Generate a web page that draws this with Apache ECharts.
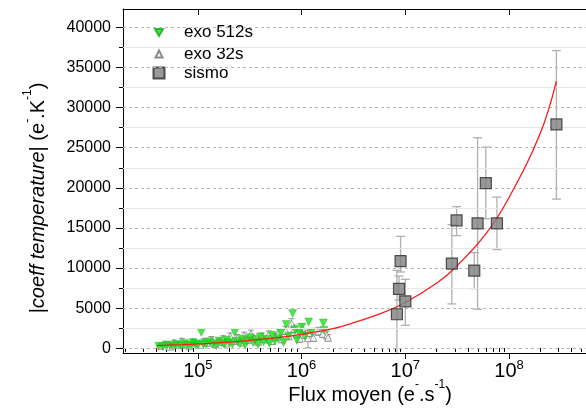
<!DOCTYPE html>
<html><head><meta charset="utf-8">
<script src="https://cdn.jsdelivr.net/npm/echarts@6/dist/echarts.min.js"></script>
<style>html,body{margin:0;padding:0;background:#fff}#c{width:586px;height:408px}</style>
</head><body><div id="c"></div>
<script>
// ---- data ----
const exo512Flux = [4.2e4,4.6e4,5.0e4,5.4e4,5.8e4,6.2e4,6.6e4,7.0e4,7.5e4,8.0e4,8.5e4,9.0e4,9.5e4,1.0e5,1.08e5,1.12e5,1.2e5,1.3e5,1.4e5,1.5e5,1.6e5,1.7e5,1.8e5,1.9e5,2.0e5,2.15e5,2.27e5,2.4e5,2.55e5,2.7e5,2.85e5,3.0e5,3.2e5,3.4e5,3.6e5,3.8e5,4.0e5,4.3e5,4.6e5,4.9e5,5.2e5,5.5e5,5.9e5,6.3e5,6.7e5,7.1e5,7.5e5,8.2e5,8.6e5,9.0e5,9.5e5,1.0e6,1.08e6,1.17e6,1.25e6,1.62e6,1.65e6];
const exo512Val  = [250,150,400,300,200,450,350,250,600,400,300,700,500,350,1950,600,450,800,550,300,900,650,450,1000,700,500,1950,850,600,1100,400,900,1300,700,1000,500,1400,800,1100,600,1600,900,1200,1900,700,2950,1500,4320,2300,1000,1800,2600,1500,3280,2000,3150,2240];
const exo32Flux = [4.3e4,4.8e4,5.3e4,5.9e4,6.4e4,7.0e4,7.6e4,8.3e4,9.0e4,9.8e4,1.06e5,1.15e5,1.25e5,1.35e5,1.47e5,1.6e5,1.75e5,1.9e5,2.05e5,2.2e5,2.4e5,2.6e5,2.8e5,3.0e5,3.25e5,3.5e5,3.8e5,4.1e5,4.4e5,4.8e5,5.2e5,5.6e5,6.0e5,6.5e5,7.0e5,7.5e5,8.0e5,8.5e5,9.0e5,9.6e5,1.02e6,1.08e6,1.15e6,1.2e6,1.3e6,1.45e6,1.6e6,1.76e6,1.8e6];
const exo32Val  = [300,500,200,700,400,900,500,300,800,600,400,900,650,1100,500,800,1200,600,1500,900,1300,700,1600,1000,1800,1200,800,1500,1100,1700,900,1400,1900,1100,2200,1500,3080,2400,1800,1200,2500,1700,1250,1900,1300,2100,1800,1620,1300];
const exo32Err  = [200,250,200,300,250,300,250,200,300,250,250,300,300,350,300,300,350,300,400,350,400,300,400,350,450,400,350,400,400,450,400,450,500,400,500,450,600,500,500,450,550,500,1200,500,450,500,500,500,400];
const sismoFlux = [8.3e6,8.7e6,9.0e6,1.0e7,2.81e7,3.12e7,4.62e7,4.97e7,5.97e7,7.64e7,2.86e8];
const sismoVal  = [4230,7385,10870,5850,10550,15940,9680,15570,20590,15570,27900];
const sismoLow  = [-1500,6000,9500,2860,5520,14030,7430,4860,16150,12290,18590];
const sismoHigh = [9700,9000,13950,8590,15400,17650,11920,26240,25070,18840,37110];
const fitFlux = [4e4,7e4,1e5,2e5,3e5,6e5,1e6,2e6,3e6,6e6,1e7,2e7,3e7,6e7,1e8,2e8,2.86e8];
const fitVal  = [330,440,530,750,950,1320,1730,2440,3070,4400,5700,8100,10000,14300,18800,26800,33300];
const xMajorTicks = [1e5,1e6,1e7,1e8];
const xMinorTicks = [2e4,3e4,4e4,5e4,6e4,7e4,8e4,9e4,2e5,3e5,4e5,5e5,6e5,7e5,8e5,9e5,2e6,3e6,4e6,5e6,6e6,7e6,8e6,9e6,2e7,3e7,4e7,5e7,6e7,7e7,8e7,9e7,2e8,3e8,4e8,5e8];
const yMajorTicks = [0,5000,10000,15000,20000,25000,30000,35000,40000];
const yMinorTicks = [2500,7500,12500,17500,22500,27500,32500,37500];
const seriesNames = ['exo 512s','exo 32s','sismo'];

// ---- build ----
const L = Math.log10;
const X_MIN = 4.2783, X_MAX = 8.7417, Y_MIN = -600, Y_MAX = 42300;
const FONT = 'Liberation Sans, Arial, sans-serif';

const exo512Data = exo512Flux.map((f,i)=>[L(f), exo512Val[i]]);
const exo32Data = exo32Flux.map((f,i)=>[L(f), exo32Val[i]]);
const exo32ErrData = exo32Flux.map((f,i)=>[L(f), exo32Val[i], exo32Val[i]-exo32Err[i], exo32Val[i]+exo32Err[i]]);
const sismoData = sismoFlux.map((f,i)=>[L(f), sismoVal[i]]);
const sismoErrData = sismoFlux.map((f,i)=>[L(f), sismoVal[i], sismoLow[i], sismoHigh[i]]);
const fitData = fitFlux.map((f,i)=>[L(f), fitVal[i]]);

function errRender(capHalf, color, lw) {
  return function (params, api) {
    const x = api.value(0), lo = api.value(2), hi = api.value(3);
    const pLo = api.coord([x, lo]), pHi = api.coord([x, hi]);
    const style = {stroke: color, lineWidth: lw};
    return {type: 'group', children: [
      {type: 'line', shape: {x1: pLo[0], y1: pLo[1], x2: pHi[0], y2: pHi[1]}, style: style},
      {type: 'line', shape: {x1: pLo[0]-capHalf, y1: pLo[1], x2: pLo[0]+capHalf, y2: pLo[1]}, style: style},
      {type: 'line', shape: {x1: pHi[0]-capHalf, y1: pHi[1], x2: pHi[0]+capHalf, y2: pHi[1]}, style: style}
    ]};
  };
}

const axisBase = {type: 'value', gridIndex: 0, splitLine: {show: false}, axisLine: {show: false},
  axisTick: {show: false}, axisLabel: {show: false}};
const black = {color: '#000', width: 1};

const xAxes = [
  Object.assign({}, axisBase, {min: X_MIN, max: X_MAX, position: 'bottom',
    axisLine: {show: true, onZero: false, lineStyle: black},
    axisTick: {show: true, inside: false, length: 6, lineStyle: black, customValues: xMajorTicks.map(L)},
    axisLabel: {show: true, margin: 6, customValues: xMajorTicks.map(L),
      formatter: v => '{b|10}{s|' + Math.round(v) + '}',
      rich: {b: {fontSize: 20, fontFamily: FONT, color: '#000', verticalAlign: 'bottom', lineHeight: 22},
             s: {fontSize: 13, fontFamily: FONT, color: '#000', verticalAlign: 'top', lineHeight: 22}}}}),
  Object.assign({}, axisBase, {min: X_MIN, max: X_MAX, position: 'bottom',
    axisTick: {show: true, inside: false, length: 3.5, lineStyle: black, customValues: xMinorTicks.map(L)}}),
  Object.assign({}, axisBase, {min: X_MIN, max: X_MAX, position: 'top',
    axisLine: {show: true, onZero: false, lineStyle: black},
    axisTick: {show: true, inside: true, length: 6, lineStyle: black, customValues: xMajorTicks.map(L)}}),
  Object.assign({}, axisBase, {min: X_MIN, max: X_MAX, position: 'top',
    axisTick: {show: true, inside: true, length: 3.5, lineStyle: black, customValues: xMinorTicks.map(L)}})
];
const yAxes = [
  Object.assign({}, axisBase, {min: Y_MIN, max: Y_MAX, position: 'left',
    axisLine: {show: true, onZero: false, lineStyle: black},
    axisTick: {show: true, inside: false, length: 7, lineStyle: black, customValues: yMajorTicks},
    axisLabel: {show: true, margin: 12, customValues: yMajorTicks, formatter: v => String(Math.round(v)),
      fontSize: 16, fontFamily: FONT, color: '#000'}}),
  Object.assign({}, axisBase, {min: Y_MIN, max: Y_MAX, position: 'left',
    axisTick: {show: true, inside: false, length: 4, lineStyle: black, customValues: yMinorTicks}})
];

const gridLines = yMajorTicks.map(v => ({yAxis: v, lineStyle: {type: [3, 3], color: '#b8b8b8', width: 1}}))
  .concat(yMinorTicks.map(v => ({yAxis: v, lineStyle: {type: 'solid', color: '#e6e6e6', width: 1}})));

const legendIcons = ['path://M0,0 L10,0 L5,8.66 Z', 'triangle', 'rect'];
function legendFor(idx, top, size) {
  return {data: [{name: seriesNames[idx], icon: legendIcons[idx]}], left: 158 - size/2, top: top - size/2,
    padding: 0, orient: 'vertical', itemWidth: size, itemHeight: size, selectedMode: false,
    textStyle: {fontSize: 17, fontFamily: FONT, color: '#000', padding: [0, 0, 0, 183 - (158 + size/2) - 5]}};
}

const option = {
  animation: false,
  backgroundColor: '#fff',
  grid: {left: 123, top: 9, width: 475, height: 344, containLabel: false},
  xAxis: xAxes,
  yAxis: yAxes,
  legend: [legendFor(0, 28, 8), legendFor(1, 49, 7), legendFor(2, 70, 11)],
  graphic: [
    {type: 'text', x: 35, y: 198, rotation: Math.PI/2, silent: true,
     style: {text: '{n||}{i|coeff temperature}{n|| (e}{s|-}{n|.K}{s|-1}{n|)}', align: 'center', verticalAlign: 'middle',
       rich: {n: {fontSize: 20, fontFamily: FONT, fill: '#000', verticalAlign: 'bottom', lineHeight: 26},
              i: {fontSize: 20, fontFamily: FONT, fontStyle: 'italic', fill: '#000', verticalAlign: 'bottom', lineHeight: 26},
              s: {fontSize: 12, fontFamily: FONT, fill: '#000', verticalAlign: 'top', lineHeight: 26}}}},
    {type: 'text', x: 370, y: 392, silent: true,
     style: {text: '{n|Flux moyen (e}{s|-}{n|.s}{s|-1}{n|)}', align: 'center', verticalAlign: 'middle',
       rich: {n: {fontSize: 20, fontFamily: FONT, fill: '#000', verticalAlign: 'bottom', lineHeight: 26},
              s: {fontSize: 12, fontFamily: FONT, fill: '#000', verticalAlign: 'top', lineHeight: 26}}}}
  ],
  series: [
    {type: 'scatter', name: 'grid', data: [[X_MIN, Y_MIN]], symbolSize: 0, z: 0, silent: true,
     markLine: {silent: true, symbol: ['none', 'none'], label: {show: false}, animation: false, data: gridLines}},
    {type: 'custom', name: 'exo32err', data: exo32ErrData, renderItem: errRender(3, '#9a9a9a', 1), clip: true, z: 2, silent: true},
    {type: 'custom', name: 'sismoerr', data: sismoErrData, renderItem: errRender(4.5, '#b0b0b0', 1.3), clip: true, z: 2, silent: true},
    {type: 'scatter', name: seriesNames[1], data: exo32Data, symbol: 'triangle', symbolSize: 7, z: 3,
     itemStyle: {color: '#ffffff', borderColor: '#6e6e6e', borderWidth: 0.8}},
    {type: 'scatter', name: seriesNames[0], data: exo512Data, symbol: 'triangle', symbolRotate: 180, symbolSize: 8, z: 4,
     itemStyle: {color: '#1fe01f', borderColor: '#14a814', borderWidth: 0.4}},
    {type: 'line', name: 'fit', data: fitData, smooth: 0.4, showSymbol: false, symbol: 'none', z: 5,
     lineStyle: {color: '#ff1a1a', width: 1.3}, silent: true},
    {type: 'scatter', name: seriesNames[2], data: sismoData, symbol: 'rect', symbolSize: 11, z: 6,
     itemStyle: {color: '#7f7f7f', borderColor: '#2a2a2a', borderWidth: 1.2}}
  ]
};
const chart = echarts.init(document.getElementById('c'), null, {renderer: 'canvas'});
chart.setOption(option);
</script></body></html>
